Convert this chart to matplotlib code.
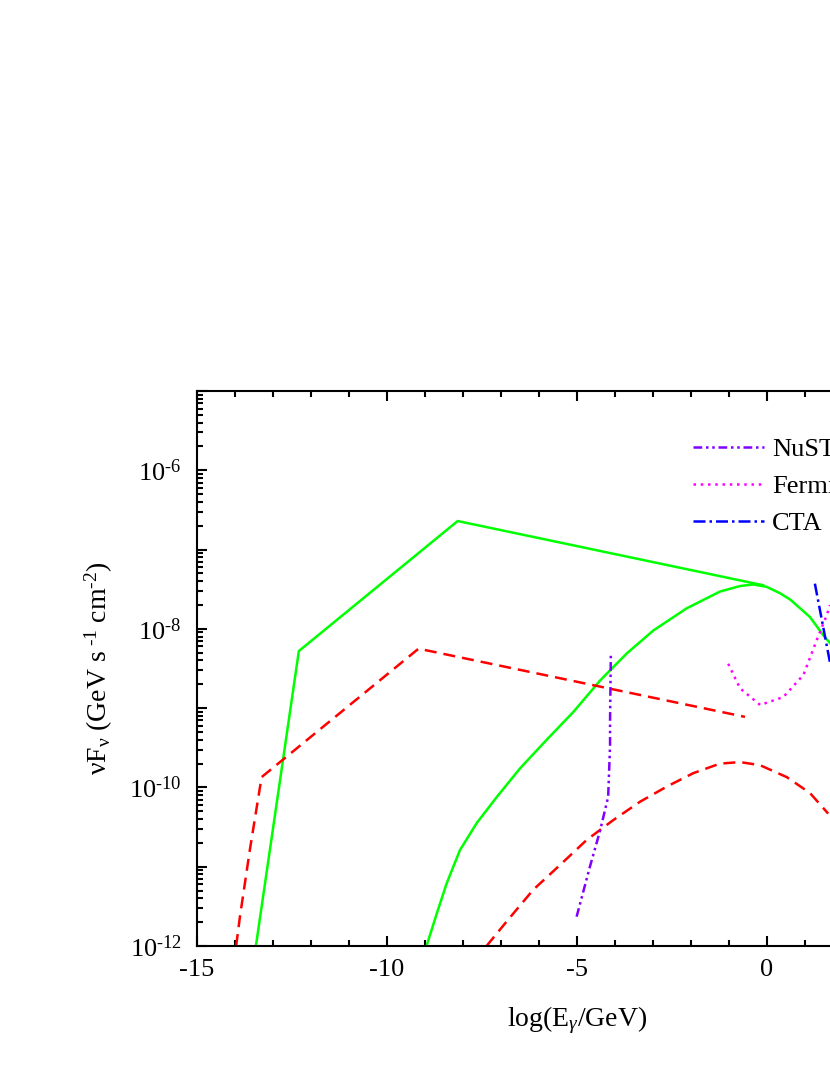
import numpy as np
import matplotlib
matplotlib.use("Agg")
import matplotlib.pyplot as plt
from matplotlib.ticker import LogLocator, FuncFormatter, MultipleLocator, NullFormatter

plt.rcParams['font.family'] = ['Liberation Serif', 'DejaVu Serif']
plt.rcParams['mathtext.fontset'] = 'custom'
plt.rcParams['mathtext.rm'] = 'Liberation Serif'
plt.rcParams['mathtext.it'] = 'Liberation Serif:italic'
plt.rcParams['axes.unicode_minus'] = False

# values: x = log10(E/GeV), y = log10(nuF_nu)
green_broken_x = [-13.45, -12.32, -8.14, -0.10]
green_broken_y = [-12.0, -8.28, -6.64, -7.45]

green_curve_x = [-8.96, -8.69, -8.43, -8.08, -7.64, -7.11, -6.50, -5.80, -5.10, -4.39,
                 -3.69, -2.99, -2.11, -1.24, -0.71, -0.36, -0.01, 0.34, 0.61, 1.13,
                 1.48, 1.66]
green_curve_y = [-12.0, -11.59, -11.21, -10.79, -10.45, -10.12, -9.76, -9.40, -9.05, -8.65,
                 -8.31, -8.02, -7.74, -7.53, -7.46, -7.44, -7.47, -7.55, -7.63, -7.85,
                 -8.08, -8.18]

red_broken_x = [-13.97, -13.87, -13.61, -13.30, -9.17, -0.58]
red_broken_y = [-12.0, -11.63, -10.79, -9.87, -8.25, -9.11]

red_curve_x = [-7.38, -6.85, -6.15, -5.45, -4.74, -4.04, -3.34, -2.64, -1.94, -1.24,
               -0.71, -0.18, 0.52, 1.13, 1.61]
red_curve_y = [-12.0, -11.69, -11.29, -10.98, -10.66, -10.41, -10.18, -9.99, -9.82, -9.70,
               -9.68, -9.72, -9.87, -10.07, -10.33]

nustar_x = [-5.01, -4.66, -4.39, -4.18, -4.13, -4.13, -4.11]
nustar_y = [-11.63, -11.00, -10.54, -10.12, -9.47, -9.15, -8.33]

fermi_x = [-1.02, -0.71, -0.18, 0.43, 0.96, 1.31, 1.57, 1.66]
fermi_y = [-8.44, -8.75, -8.96, -8.86, -8.58, -8.14, -7.83, -7.70]

cta_x = [1.26, 1.66]
cta_y = [-7.43, -8.43]

fig = plt.figure(figsize=(8.3, 10.75), dpi=100)
# axes runs past the right edge of the page, as in the original crop
ax = fig.add_axes([197/830, 129/1075, 760/830, 555/1075])

lw = 1.8
ax.plot(green_broken_x, 10**np.array(green_broken_y), color='#00ff00', lw=lw)
ax.plot(green_curve_x, 10**np.array(green_curve_y), color='#00ff00', lw=lw)
ax.plot(red_broken_x, 10**np.array(red_broken_y), color='#ff0000', lw=lw, ls=(0, (4.8, 2.8)))
ax.plot(red_curve_x, 10**np.array(red_curve_y), color='#ff0000', lw=lw, ls=(0, (4.8, 2.8)))
ax.plot(nustar_x, 10**np.array(nustar_y), color='#8000ff', lw=lw,
        ls=(0, (3.5, 1.5, 1, 1.5, 1, 1.5)), label='NuSTAR')
ax.plot(fermi_x, 10**np.array(fermi_y), color='#ff00ff', lw=lw,
        ls=(0, (1, 1.9)), label='Fermi-LAT')
ax.plot(cta_x, 10**np.array(cta_y), color='#0000ff', lw=lw,
        ls=(0, (4.8, 1.6, 1, 1.6)), label='CTA')

ax.set_yscale('log')
ax.set_xlim(-15, 5)
ax.set_ylim(1e-12, 1e-5)

ax.xaxis.set_major_locator(MultipleLocator(5))
ax.xaxis.set_minor_locator(MultipleLocator(1))
ax.yaxis.set_major_locator(LogLocator(base=10, subs=(1.0,), numticks=20))
ax.yaxis.set_minor_locator(LogLocator(base=10, subs=np.arange(2, 10), numticks=20))
ax.yaxis.set_minor_formatter(NullFormatter())


def ylab(v, pos):
    e = int(round(np.log10(v)))
    if e % 2:
        return ''
    return r'$\mathregular{10^{\text{-}%d}}$' % (-e)


ax.yaxis.set_major_formatter(FuncFormatter(ylab))

for s in ax.spines.values():
    s.set_linewidth(1.5)
ax.tick_params(which='both', direction='in', top=True, right=True, width=1.5,
               labelsize=19)
ax.tick_params(which='major', length=7.5)
ax.tick_params(which='minor', length=4)
ax.tick_params(axis='x', which='major', pad=9)
ax.tick_params(axis='y', which='major', pad=11)

ax.set_xlabel(r'log(E$_\gamma$/GeV)', fontsize=20)
ax.xaxis.set_label_coords(0.5, -0.105)
ax.set_ylabel(r'$\mathregular{\nu}$F$_{\mathregular{\nu}}$ (GeV s$^{\text{ -1}}$ cm$^{\text{-2}}$)',
              fontsize=20)
ax.yaxis.set_label_coords(-0.108, 0.5)

ax.legend(loc='upper left', bbox_to_anchor=(693/830, 1 - 438/1075),
          bbox_transform=fig.transFigure, frameon=False, fontsize=19,
          borderpad=0, borderaxespad=0, handlelength=2.7, handletextpad=0.3,
          labelspacing=0.51)

fig.savefig('out.png', dpi=100)
